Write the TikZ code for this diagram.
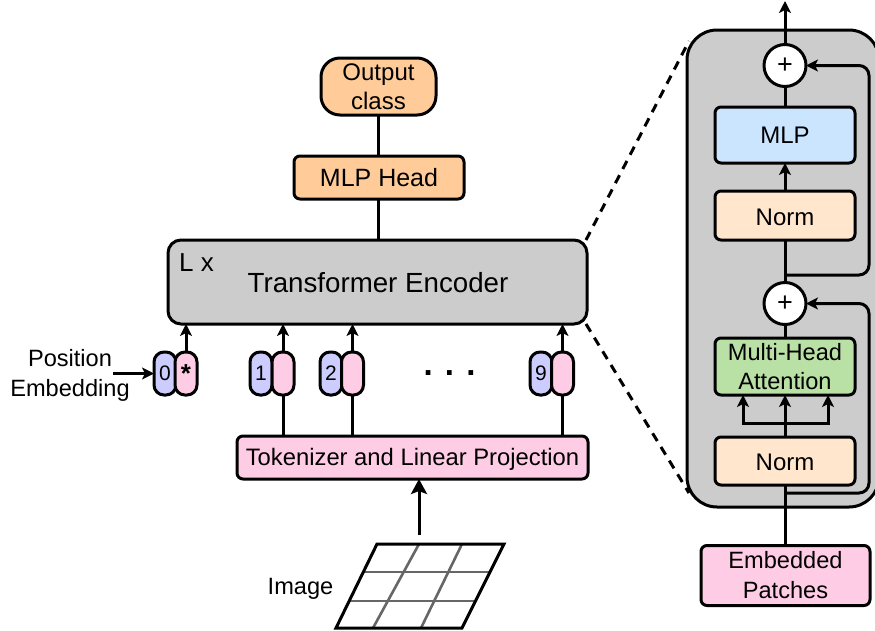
\documentclass[tikz,border=0pt]{standalone}
\usepackage{fontspec}
\setmainfont{Liberation Sans}
\usetikzlibrary{arrows.meta}
\newcommand{\fsz}[2]{\fontsize{#1}{#2}\selectfont}
\definecolor{cOrange}{HTML}{FFCC99}
\definecolor{cGray}{HTML}{CCCCCC}
\definecolor{cPink}{HTML}{FFCCE6}
\definecolor{cBlue}{HTML}{CCCCFF}
\definecolor{cLight}{HTML}{CCE5FF}
\definecolor{cPeach}{HTML}{FFE6CC}
\definecolor{cGreen}{HTML}{B9E0A5}
\tikzset{
  box/.style={draw=black,line width=3pt,rounded corners=6pt,inner sep=0pt,outer sep=0pt,align=center,font=\fsz{24}{29}},
  token/.style={draw=black,line width=3pt,rounded corners=10pt,inner sep=0pt,outer sep=0pt,minimum width=22pt,minimum height=43pt,font=\fsz{21}{24}},
  conn/.style={draw=black,line width=3pt},
  arrow/.style={conn,-{Stealth[length=12pt,width=12pt,inset=3pt]}},
  bigarrow/.style={conn,-{Stealth[length=15pt,width=16pt,inset=3pt]}},
  sumnode/.style={circle,draw=black,line width=3pt,fill=white,minimum size=42pt,inner sep=0pt,outer sep=0pt,font=\fsz{27}{28}},
  dashlink/.style={draw=black,line width=3pt,dash pattern=on 9pt off 7pt},
  gridline/.style={draw=black!60,line width=2.6pt},
  label/.style={inner sep=0pt,align=center,font=\fsz{23.6}{30}},
  lowered/.style={text height=19pt,text depth=0pt},
}
\begin{document}
\begin{tikzpicture}[x=1pt,y=-1pt]
\useasboundingbox (0,0) rectangle (875,630);
\clip (0,0) rectangle (875,630);
\fill[white] (0,0) rectangle (875,630);
% left column nodes
\node[box,fill=cOrange,rounded corners=19pt,minimum width=115pt,minimum height=57pt] (out) at (378.5,86.5) {Output\\class};
\node[box,fill=cOrange,minimum width=170pt,minimum height=43pt,font=\fsz{25}{29}] (head) at (379,177.5) {MLP Head};
\node[box,fill=cGray,rounded corners=13pt,minimum width=419pt,minimum height=84pt] (enc) at (377.5,282) {};
\node[inner sep=0pt,font=\fsz{27.7}{32}] (enctext) at (378,283) {Transformer Encoder};
\node[inner sep=0pt,font=\fsz{26}{28}] (lx) at (196.5,263) {L x};
\node[box,fill=cPink,minimum width=351pt,minimum height=43pt,font=\fsz{23.8}{28},text height=18pt,text depth=2pt] (tok) at (412.5,457.5) {Tokenizer and Linear Projection};
% tokens
\node[token,fill=cBlue] (a0) at (165,373.5) {0};
\node[token,fill=cPink,font=\fsz{26}{26}\bfseries] (b0) at (186,373.5) {\raisebox{-8pt}{*}};
\node[token,fill=cBlue] (a1) at (261,373.5) {1};
\node[token,fill=cPink] (b1) at (283,373.5) {};
\node[token,fill=cBlue] (a2) at (331,373.5) {2};
\node[token,fill=cPink] (b2) at (352.5,373.5) {};
\node[token,fill=cBlue] (a9) at (541,373.5) {9};
\node[token,fill=cPink] (b9) at (562.5,373.5) {};
\node[inner sep=0pt,font=\fsz{33}{33}\bfseries] (dots) at (449.5,373) {. . .};
\node[label] (pos) at (70,375.5) {Position\\Embedding};
\coordinate (posout) at (113,373.5);
% left connectors
\draw[conn] (enc.north -| out.south) -- (head.south -| out.south);
\draw[conn] (head.north -| out.south) -- (out.south);
\draw[arrow] (b0.north) -- (b0.north |- enc.south);
\draw[arrow] (b1.north) -- (b1.north |- enc.south);
\draw[arrow] (b2.north) -- (b2.north |- enc.south);
\draw[arrow] (b9.north) -- (b9.north |- enc.south);
\draw[conn] (tok.north -| b1.south) -- (b1.south);
\draw[conn] (tok.north -| b2.south) -- (b2.south);
\draw[conn] (tok.north -| b9.south) -- (b9.south);
\draw[arrow] (posout) -- (a0.west |- posout);
% image
\coordinate (tl) at (377,544);
\coordinate (tr) at (504,544);
\coordinate (br) at (462,628);
\coordinate (bl) at (336,628);
\coordinate (imgtop) at (419,535);
\draw[gridline] (364,572) -- (489,572);
\draw[gridline] (350,601) -- (475,601);
\draw[gridline] (419,544) -- (373,628);
\draw[gridline] (462,544) -- (421,628);
\draw[line width=3pt,line join=miter] (tl) -- (tr) -- (br) -- (bl) -- cycle;
\draw[bigarrow] (imgtop) -- (imgtop |- tok.south);
\node[inner sep=0pt,font=\fsz{23.6}{28}] (imglabel) at (300.5,588.5) {Image};
% dashed links
\coordinate (dashtop) at (689,41);
\coordinate (dashbot) at (689,493);
\draw[dashlink] (enc.north east) ++(-1,0) -- (dashtop);
\draw[dashlink] (enc.south east) ++(-1,0) -- (dashbot);
% right panel
\node[box,fill=cGray,rounded corners=30pt,minimum width=192pt,minimum height=477pt] (panel) at (783,268.5) {};
\node[box,fill=cLight,minimum width=140pt,minimum height=56pt] (mlp) at (785,135) {MLP};
\node[box,fill=cPeach,minimum width=140pt,minimum height=49pt,lowered] (norma) at (785,215.5) {Norm};
\node[box,fill=cGreen,minimum width=140pt,minimum height=57pt,font=\fsz{23.6}{29}] (mha) at (785,366.5) {Multi-Head\\Attention};
\node[box,fill=cPeach,minimum width=140pt,minimum height=48pt,lowered] (normb) at (785,461) {Norm};
\node[box,fill=cPink,minimum width=169pt,minimum height=60pt,font=\fsz{23.6}{30}] (emb) at (785.5,575.5) {Embedded\\Patches};
\node[sumnode] (suma) at (785,65.5) {+};
\node[sumnode] (sumb) at (785,303.5) {+};
\coordinate (top) at (785,1);
\coordinate (tapa) at (785,275);
\coordinate (tapb) at (785,493);
\coordinate (railx) at (869,0);
\coordinate (split) at (785,423);
\coordinate (sl) at (743,423);
\coordinate (sr) at (828,423);
% right connectors
\draw[arrow] (suma.north) -- (top);
\draw[conn] (mlp.north) -- (suma.south);
\draw[arrow] (norma.north) -- (mlp.south);
\draw[conn] (norma.south) -- (sumb.north);
\draw[conn] (sumb.south) -- (mha.north);
\draw[arrow] (normb.north) -- (mha.south);
\draw[arrow] (split) -- (sl) -- (sl |- mha.south);
\draw[arrow] (split) -- (sr) -- (sr |- mha.south);
\draw[conn] (emb.north -| normb.south) -- (normb.south);
\draw[arrow,rounded corners=10pt] (tapa) -- (tapa -| railx) -- (railx |- suma.east) -- (suma.east);
\draw[arrow,rounded corners=10pt] (tapb) -- (tapb -| railx) -- (railx |- sumb.east) -- (sumb.east);
\end{tikzpicture}
\end{document}
